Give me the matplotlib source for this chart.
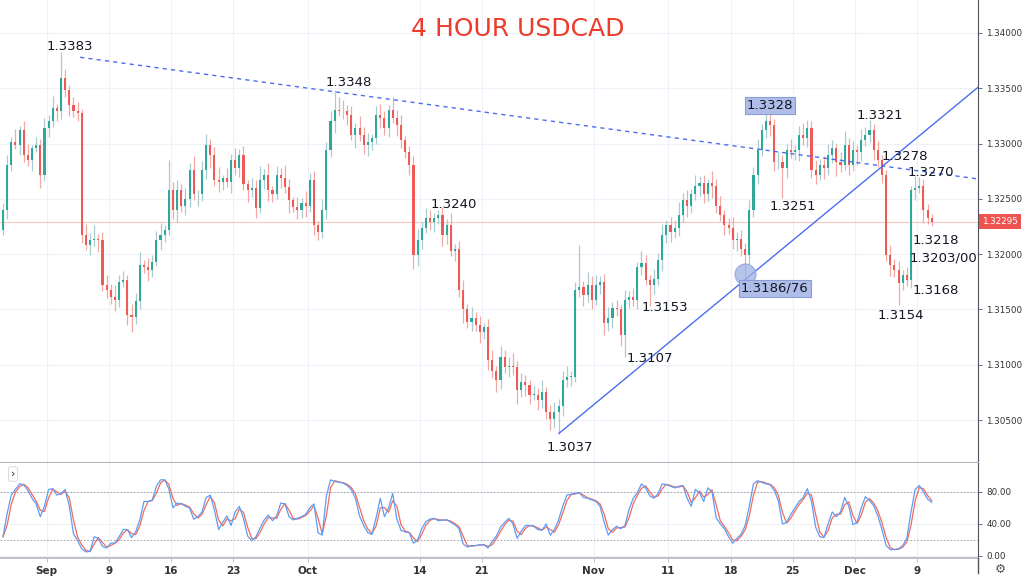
import numpy as np
import pandas as pd
import matplotlib
matplotlib.use('Agg')
import matplotlib.pyplot as plt
import matplotlib.transforms as mtransforms

# 8-hour candles from 27 Aug to 10 Dec 2019, closes in pips above 1.3000
close_pips = [
    240, 281, 301, 299, 312, 290, 285, 296, 299, 272, 314, 320, 332, 329, 359,
    348, 335, 329, 328, 217, 208, 213, 214, 213, 172, 168, 161, 159, 175, 177,
    145, 143, 158, 190, 188, 186, 193, 213, 217, 222, 258, 240, 258, 244, 250,
    276, 254, 254, 276, 299, 290, 267, 265, 269, 265, 285, 278, 290, 263, 258,
    260, 242, 267, 272, 258, 254, 272, 269, 261, 249, 243, 240, 246, 244, 267,
    226, 220, 240, 294, 320, 330, 329, 329, 326, 308, 314, 308, 299, 301, 305,
    326, 323, 314, 330, 323, 317, 303, 292, 281, 199, 213, 224, 233, 229, 233,
    235, 217, 226, 203, 205, 168, 150, 139, 142, 136, 130, 134, 104, 94, 86,
    107, 98, 99, 98, 77, 84, 82, 73, 73, 68, 75, 57, 51, 57, 63,
    86, 89, 89, 168, 170, 163, 172, 159, 172, 175, 138, 142, 151, 150, 127,
    159, 161, 159, 188, 192, 177, 172, 178, 195, 217, 226, 220, 224, 235, 249,
    244, 254, 262, 264, 254, 264, 262, 244, 235, 226, 224, 213, 214, 205, 199,
    240, 272, 294, 312, 320, 317, 283, 283, 278, 294, 292, 294, 308, 305, 314,
    276, 272, 281, 278, 290, 296, 283, 281, 299, 281, 294, 292, 303, 308, 312,
    294, 285, 272, 199, 190, 186, 174, 181, 177, 258, 260, 262, 240, 233, 229.5,
]
first_open_pips = 222

upper_wick = [
    6, 9, 5, 12, 4, 8, 10, 3, 7, 5, 9, 6, 11, 4, 24,
    8, 5, 7, 9, 3, 10, 6, 12, 4, 7, 9, 5, 11, 6, 8,
    4, 10, 7, 12, 5, 9, 6, 8, 11, 4, 27, 7, 9, 5, 10,
    6, 13, 4, 8, 10, 5, 7, 12, 3, 9, 6, 11, 5, 8, 4,
    9, 7, 13, 5, 10, 4, 8, 6, 12, 7, 3, 9, 5, 11, 6,
    8, 4, 10, 7, 9, 18, 12, 10, 6, 8, 5, 11, 7, 9, 4,
    8, 10, 6, 5, 12, 7, 9, 4, 6, 8, 10, 5, 9, 7, 4,
    5, 8, 6, 11, 4, 7, 9, 5, 10, 6, 8, 4, 7, 9, 5,
    10, 6, 8, 12, 5, 9, 7, 4, 8, 6, 11, 5, 7, 9, 6,
    8, 10, 5, 7, 38, 6, 12, 8, 9, 5, 7, 10, 6, 8, 4,
    9, 6, 8, 5, 11, 7, 4, 9, 6, 10, 5, 8, 7, 12, 6,
    9, 5, 10, 7, 8, 4, 11, 6, 9, 5, 7, 10, 6, 8, 5,
    9, 7, 10, 6, 8, 12, 5, 9, 7, 6, 10, 5, 8, 11, 7,
    6, 9, 5, 8, 10, 7, 4, 9, 12, 6, 8, 5, 10, 7, 9,
    6, 8, 5, 4, 9, 6, 8, 5, 7, 4, 11, 8, 6, 5, 3,
]
lower_wick = [
    5, 8, 6, 4, 9, 7, 5, 10, 4, 12, 6, 8, 5, 9, 7,
    6, 10, 5, 8, 7, 4, 9, 6, 11, 5, 8, 6, 10, 7, 5,
    9, 13, 6, 8, 5, 10, 7, 4, 9, 6, 5, 8, 11, 6, 9,
    7, 5, 10, 6, 8, 12, 5, 9, 7, 4, 10, 6, 8, 5, 11,
    6, 9, 5, 8, 10, 7, 4, 9, 6, 12, 5, 8, 7, 10, 6,
    9, 7, 5, 8, 6, 10, 4, 7, 9, 5, 12, 6, 8, 10, 7,
    5, 9, 6, 8, 4, 10, 7, 5, 9, 12, 10, 8, 5, 7, 9,
    6, 10, 8, 5, 9, 7, 12, 6, 8, 5, 10, 7, 9, 6, 11,
    8, 5, 9, 7, 12, 6, 10, 8, 5, 9, 7, 6, 10, 8, 20,
    9, 6, 8, 5, 7, 10, 6, 9, 5, 8, 11, 7, 9, 6, 10,
    20, 8, 6, 9, 7, 5, 19, 8, 6, 10, 7, 9, 5, 8, 6,
    10, 7, 5, 9, 8, 6, 11, 7, 5, 9, 6, 8, 10, 7, 23,
    8, 6, 9, 5, 7, 10, 8, 6, 27, 9, 5, 7, 10, 6, 8,
    7, 9, 5, 10, 6, 8, 12, 7, 5, 9, 6, 11, 8, 5, 7,
    9, 6, 8, 5, 10, 7, 20, 6, 6, 8, 9, 5, 12, 6, 4,
]

# stochastic %K per candle
stoch_k = [
    24, 53, 76, 83, 90, 89, 82, 72, 65, 49, 62, 83, 84, 76, 78,
    83, 62, 28, 19, 9, 5, 6, 24, 22, 12, 10, 16, 16, 24, 33,
    33, 23, 30, 45, 68, 68, 70, 87, 95, 95, 84, 60, 66, 65, 62,
    60, 46, 49, 55, 73, 76, 57, 33, 42, 50, 38, 55, 62, 47, 25,
    19, 24, 35, 45, 51, 44, 50, 66, 65, 49, 45, 47, 49, 52, 60,
    65, 29, 26, 75, 95, 93, 92, 91, 88, 83, 72, 50, 38, 29, 27,
    48, 72, 49, 60, 78, 46, 32, 30, 29, 16, 20, 34, 43, 46, 47,
    44, 45, 45, 42, 39, 34, 15, 11, 13, 13, 14, 14, 10, 18, 25,
    36, 42, 47, 40, 22, 31, 38, 38, 37, 33, 32, 40, 26, 33, 45,
    62, 76, 77, 78, 79, 73, 72, 70, 68, 62, 42, 26, 33, 37, 34,
    38, 58, 72, 79, 90, 85, 75, 72, 78, 90, 89, 87, 85, 87, 88,
    72, 62, 83, 79, 68, 85, 80, 48, 40, 34, 24, 16, 22, 27, 38,
    62, 90, 94, 92, 90, 89, 82, 69, 40, 42, 52, 60, 68, 73, 84,
    68, 36, 24, 23, 40, 55, 49, 55, 73, 62, 39, 42, 60, 74, 69,
    63, 50, 33, 13, 8, 8, 9, 13, 22, 55, 83, 88, 80, 71, 67,
]

# trading-day index (0 = 2 Sep) of each date label
tick_days = [0, 5, 10, 15, 21, 30, 35, 44, 50, 55, 60, 65, 70]
tick_labels = ['Sep', '9', '16', '23', 'Oct', '14', '21', 'Nov', '11', '18', '25', 'Dec', '9']

last_price = 1.32295
res_line = ([2.7, 74.9], [1.3378, 1.3268])     # dashed resistance
sup_line = ([41.2, 74.9], [1.3038, 1.3351])    # rising support
touch_pt = (56.15, 1.3182)

labels = ['1.3383', '1.3348', '1.3240', '1.3321', '1.3278', '1.3270', '1.3251',
          '1.3218', '1.3203/00', '1.3168', '1.3154', '1.3153', '1.3107', '1.3037']
label_x = [1.89, 24.32, 32.76, 67.0, 69.0, 71.1, 60.0, 71.5, 72.1, 71.5, 68.7, 49.7, 48.5, 42.1]
label_y = [1.33882, 1.33548, 1.32445, 1.33250, 1.32879, 1.32743, 1.32427,
           1.32128, 1.31966, 1.31676, 1.31450, 1.31522, 1.31061, 1.30248]
boxed = ['1.3328', '1.3186/76']
boxed_x = [58.16, 58.56]
boxed_y = [1.33340, 1.31694]

n = len(close_pips)
x = np.arange(n) / 3 - 3.5
c = 1.30 + np.array(close_pips) / 10000
o = np.r_[1.30 + first_open_pips / 10000, c[:-1]]
hi = np.maximum(o, c) + np.array(upper_wick) / 10000
lo = np.minimum(o, c) - np.array(lower_wick) / 10000
up = c >= o

fig = plt.figure(figsize=(10.24, 5.83), dpi=100)
fig.patch.set_facecolor('white')
ax = fig.add_axes([0, 0.2058, 0.955, 0.7942])
ax2 = fig.add_axes([0, 0.0429, 0.955, 0.1629], sharex=ax)

grid_c = '#EEF1F7'
ax.set_xticks(tick_days)
ax.set_yticks(np.arange(1.305, 1.3401, 0.005))
ax.grid(True, color=grid_c, lw=0.8)
ax.set_axisbelow(True)

ax.axhline(last_price, color='#F5C6C2', lw=0.8, zorder=1)

ax.vlines(x[up], lo[up], hi[up], color='#A8CDD0', lw=0.9, zorder=2)
ax.vlines(x[~up], lo[~up], hi[~up], color='#F3A8A4', lw=0.9, zorder=2)
ax.bar(x, np.maximum(np.abs(c - o), 0.00005), bottom=np.minimum(o, c), width=0.17,
       color=np.where(up, '#2FA89C', '#EE5A55'), linewidth=0, zorder=3)

ax.plot(res_line[0], res_line[1], color='#4A6EF0', lw=1, ls=(0, (3, 3)), zorder=4)
ax.plot(sup_line[0], sup_line[1], color='#4A6EF0', lw=1, zorder=4)
ax.plot([touch_pt[0]], [touch_pt[1]], 'o', ms=15, mfc='#9DB2E4', mec='#8EA3DA', alpha=0.75, zorder=5)

for s, tx, ty in zip(labels, label_x, label_y):
    ax.text(tx, ty, s, ha='center', va='center', fontsize=9.5, color='#131722', zorder=6)
for s, tx, ty in zip(boxed, boxed_x, boxed_y):
    ax.text(tx, ty, s, ha='center', va='center', fontsize=9.5, color='#131722', zorder=6,
            bbox=dict(boxstyle='square,pad=0.15', fc='#AEBEE8', ec='#8A9DD6', lw=0.8))

ax.set_xlim(-3.74, 74.88)
ax.set_ylim(1.30112, 1.34298)
ax.yaxis.tick_right()
ax.yaxis.set_major_formatter(plt.FormatStrFormatter('%.5f'))
ax.tick_params(axis='y', length=3, width=0.6, color='#50535E', labelsize=6.3,
               labelcolor='#333333', pad=3)
ax.tick_params(axis='x', length=0, labelbottom=False)
for sp in ['top', 'left']:
    ax.spines[sp].set_visible(False)
ax.spines['right'].set_color('#50535E')
ax.spines['bottom'].set_color('#B2B5BE')
ax.spines['bottom'].set_linewidth(1.5)

tr = mtransforms.blended_transform_factory(ax.transAxes, ax.transData)
ax.text(1.004, last_price, f'{last_price:.5f}', transform=tr, ha='left', va='center',
        fontsize=6.3, color='white', clip_on=False,
        bbox=dict(boxstyle='square,pad=0.35', fc='#EF5350', ec='none'))

# stochastic panel
k = pd.Series(stoch_k, dtype=float)
d = k.rolling(2, min_periods=1).mean()
ax2.grid(True, color=grid_c, lw=0.8)
ax2.set_axisbelow(True)
ax2.axhline(80, color='#9598A1', lw=0.6, ls=(0, (2, 2)))
ax2.axhline(20, color='#9598A1', lw=0.6, ls=(0, (2, 2)))
ax2.plot(x, d, color='#F26B5B', lw=0.9)
ax2.plot(x, k, color='#5E9CF7', lw=0.9)
ax2.set_ylim(-2.5, 116)
ax2.set_yticks([0, 40, 80])
ax2.yaxis.tick_right()
ax2.yaxis.set_major_formatter(plt.FormatStrFormatter('%.2f'))
ax2.tick_params(axis='y', length=3, width=0.6, color='#50535E', labelsize=6.3,
                labelcolor='#333333', pad=3)
ax2.set_xticks(tick_days)
ax2.set_xticklabels(tick_labels)
ax2.tick_params(axis='x', length=3, width=0.6, color='#B2B5BE', labelsize=7.5,
                labelcolor='#333333', pad=3)
for lab in ax2.get_xticklabels():
    lab.set_fontweight('semibold')
for sp in ['top', 'left']:
    ax2.spines[sp].set_visible(False)
ax2.spines['right'].set_color('#50535E')
ax2.spines['bottom'].set_color('#B2B5BE')
ax2.spines['bottom'].set_linewidth(1.2)

fig.add_artist(plt.Line2D([0.955, 0.955], [0.017, 0.0429], color='#50535E', lw=1))
fig.text(0.506, 0.950, '4 HOUR USDCAD', color='#EE3B2B', fontsize=18, ha='center', va='center')
fig.text(13 / 1024, 1 - 474 / 583, '›', fontsize=8, ha='center', va='center', color='#333333',
         bbox=dict(boxstyle='round,pad=0.2', fc='white', ec='#D1D4DC', lw=0.6))
fig.text(1000 / 1024, 1 - 569 / 583, '\u2699', fontsize=9, ha='center', va='center', color='#555555')

fig.savefig('out.png', dpi=100, facecolor='white')
plt.close(fig)
